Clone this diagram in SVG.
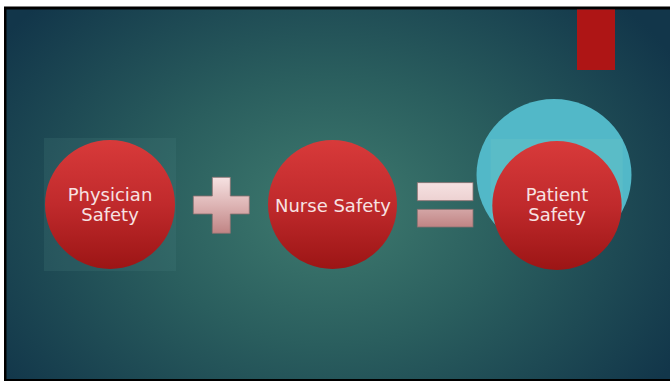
<svg xmlns="http://www.w3.org/2000/svg" width="670" height="381" viewBox="0 0 670 381">
  <defs>
    <radialGradient id="bg" cx="330" cy="210" r="400" gradientUnits="userSpaceOnUse" gradientTransform="translate(330 210) scale(1 0.75) translate(-330 -210)">
      <stop offset="0" stop-color="#3f7b6f"/>
      <stop offset="0.45" stop-color="#2a5e5e"/>
      <stop offset="1" stop-color="#12364a"/>
    </radialGradient>
    <linearGradient id="red" x1="0" y1="0" x2="0" y2="1">
      <stop offset="0" stop-color="#d83a3a"/>
      <stop offset="0.5" stop-color="#c02a2c"/>
      <stop offset="1" stop-color="#9c1515"/>
    </linearGradient>
    <linearGradient id="op" x1="0" y1="0" x2="0" y2="1">
      <stop offset="0" stop-color="#f6e2e2"/>
      <stop offset="0.5" stop-color="#ddb4b4"/>
      <stop offset="1" stop-color="#c08484"/>
    </linearGradient>
    <linearGradient id="eq" x1="0" y1="182" x2="0" y2="227" gradientUnits="userSpaceOnUse">
      <stop offset="0" stop-color="#f6e2e2"/>
      <stop offset="0.45" stop-color="#ecd0d0"/>
      <stop offset="0.6" stop-color="#d4a6a6"/>
      <stop offset="1" stop-color="#c08484"/>
    </linearGradient>
    <clipPath id="tealClip">
      <ellipse cx="554" cy="175" rx="77.5" ry="76"/>
    </clipPath>
  </defs>
  <style>
    .circle { fill: url(#red); }
    .lbl { font-family: "DejaVu Sans", "Liberation Sans", sans-serif; font-size: 18px; fill: #f7e2e2; text-anchor: middle; }
    .op { stroke: #8a7070; stroke-width: 0.8; }
    .halo { fill: #4a8080; opacity: 0.22; }
  </style>
  <rect x="0" y="0" width="670" height="381" fill="#ffffff"/>
  <rect x="4" y="6.5" width="666" height="374.5" fill="#000000"/>
  <rect x="6.5" y="9.5" width="663.5" height="369.5" fill="url(#bg)"/>
  <rect id="accent" x="577" y="9.5" width="38" height="60.5" fill="#ae1515"/>

  <g id="physician">
    <rect class="halo" x="44" y="138" width="132" height="133"/>
    <ellipse class="circle" cx="110" cy="204.5" rx="65" ry="64.5"/>
    <text class="lbl" x="110" y="201">Physician</text>
    <text class="lbl" x="110" y="221">Safety</text>
  </g>

  <g id="plus">
    <path class="op" fill="url(#op)" d="M212.3 177.3 H230.3 V196 H249.3 V214 H230.3 V233.3 H212.3 V214 H193.3 V196 H212.3 Z"/>
  </g>

  <g id="nurse">
    <ellipse class="circle" cx="332.5" cy="204.5" rx="64.5" ry="64.5"/>
    <text class="lbl" x="333" y="211.5">Nurse Safety</text>
  </g>

  <g id="equals">
    <rect class="op" fill="url(#eq)" x="417.3" y="182.7" width="55.7" height="18"/>
    <rect class="op" fill="url(#eq)" x="417.3" y="209.3" width="55.7" height="17.7"/>
  </g>

  <g id="patient">
    <ellipse cx="554" cy="175" rx="77.5" ry="76" fill="#52b8c8"/>
    <rect x="490.7" y="139" width="132" height="132" fill="#6cc6c8" opacity="0.3" clip-path="url(#tealClip)"/>
    <ellipse class="circle" cx="557" cy="205.5" rx="64.7" ry="64.5"/>
    <text class="lbl" x="557" y="201">Patient</text>
    <text class="lbl" x="557" y="221">Safety</text>
  </g>
</svg>
